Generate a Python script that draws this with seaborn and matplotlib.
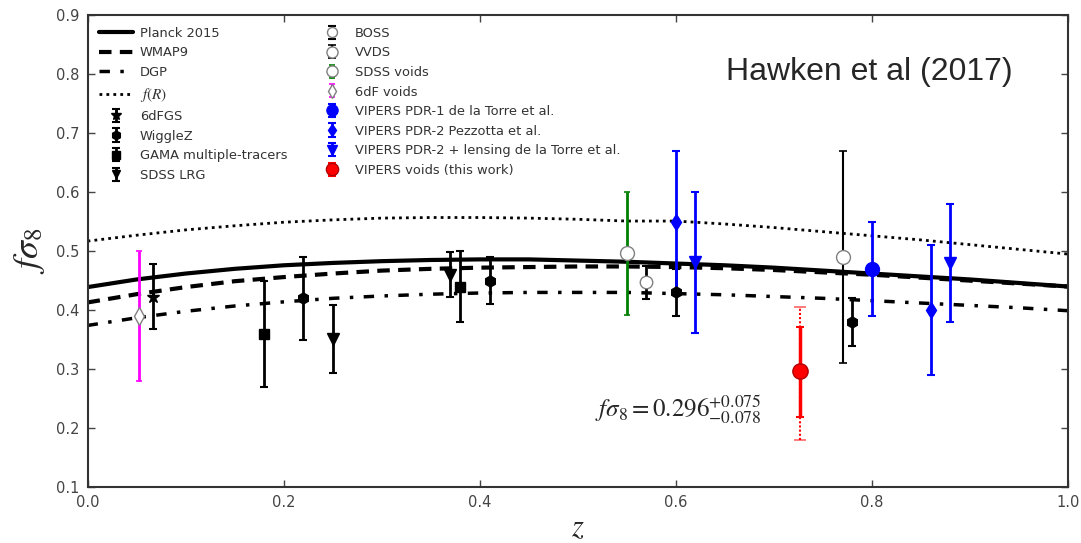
import numpy as np
import pandas as pd
import seaborn as sns
import matplotlib.pyplot as plt

sns.set_style("ticks")
plt.rcParams['font.family'] = ['DejaVu Sans']
plt.rcParams['mathtext.fontset'] = 'stix'

# theory curves
z_curve = [0.0, 0.05, 0.1, 0.15, 0.2, 0.25, 0.3, 0.35, 0.4, 0.45, 0.5,
           0.55, 0.6, 0.65, 0.7, 0.75, 0.8, 0.85, 0.9, 0.95, 1.0]
planck = [0.439, 0.452, 0.462, 0.470, 0.476, 0.480, 0.483, 0.485, 0.486, 0.486, 0.484,
          0.482, 0.479, 0.476, 0.472, 0.467, 0.462, 0.457, 0.452, 0.446, 0.440]
wmap9 = [0.413, 0.427, 0.439, 0.449, 0.456, 0.462, 0.467, 0.470, 0.472, 0.473, 0.474,
         0.474, 0.473, 0.471, 0.468, 0.464, 0.460, 0.455, 0.450, 0.445, 0.440]
dgp = [0.374, 0.387, 0.398, 0.407, 0.414, 0.420, 0.424, 0.427, 0.429, 0.430, 0.430,
       0.430, 0.428, 0.426, 0.423, 0.420, 0.416, 0.412, 0.408, 0.404, 0.399]
fR = [0.517, 0.527, 0.536, 0.543, 0.549, 0.553, 0.556, 0.557, 0.557, 0.556, 0.554,
      0.551, 0.551, 0.546, 0.540, 0.533, 0.526, 0.519, 0.511, 0.503, 0.495]

# measurements: z, fsigma8, error
sixdfgs_z, sixdfgs_f, sixdfgs_e = [0.067], [0.423], [0.055]
wigglez_z = [0.22, 0.41, 0.60, 0.78]
wigglez_f = [0.42, 0.45, 0.43, 0.38]
wigglez_e = [0.07, 0.04, 0.04, 0.04]
gama_z, gama_f, gama_e = [0.18, 0.38], [0.36, 0.44], [0.09, 0.06]
lrg_z, lrg_f, lrg_e = [0.25, 0.37], [0.351, 0.460], [0.058, 0.038]
boss_z, boss_f, boss_e = [0.57], [0.447], [0.028]
vvds_z, vvds_f, vvds_e = [0.77], [0.49], [0.18]
sdssv_z, sdssv_f, sdssv_e = [0.55], [0.496], [0.105]
sixdfv_z, sixdfv_f, sixdfv_e = [0.052], [0.39], [0.11]
pdr1_z, pdr1_f, pdr1_e = [0.80], [0.47], [0.08]
pezz_z, pezz_f, pezz_e = [0.60, 0.86], [0.55, 0.40], [0.12, 0.11]
lens_z, lens_f, lens_e = [0.62, 0.88], [0.481, 0.48], [0.12, 0.10]
voids_z, voids_f = [0.727], [0.296]
voids_up, voids_lo = [0.075], [0.078]
voids_up_sys, voids_lo_sys = [0.109], [0.117]

fig, ax = plt.subplots(figsize=(10.81, 5.43), dpi=100)
fig.subplots_adjust(left=0.081, right=0.988, top=0.972, bottom=0.103)

curves = pd.DataFrame({'z': z_curve, 'Planck 2015': planck, 'WMAP9': wmap9,
                       'DGP': dgp, 'fR': fR})
sns.lineplot(data=curves, x='z', y='Planck 2015', ax=ax, color='black', lw=3,
             label='Planck 2015')
sns.lineplot(data=curves, x='z', y='WMAP9', ax=ax, color='black', lw=3,
             linestyle=(0, (3, 2)), label='WMAP9')
sns.lineplot(data=curves, x='z', y='DGP', ax=ax, color='black', lw=2.5,
             linestyle=(0, (3, 3, 1, 3)), label='DGP')
sns.lineplot(data=curves, x='z', y='fR', ax=ax, color='black', lw=2,
             linestyle=(0, (1, 1.5)), label=r'$f(R)$')

ebk = dict(capsize=3, elinewidth=2, capthick=1.5, linestyle='none')
ax.errorbar(sixdfgs_z, sixdfgs_f, yerr=sixdfgs_e, fmt='*', color='black', ms=9,
            label='6dFGS', **ebk)
ax.errorbar(wigglez_z, wigglez_f, yerr=wigglez_e, fmt='h', color='black', ms=8,
            label='WiggleZ', **ebk)
ax.errorbar(gama_z, gama_f, yerr=gama_e, fmt='s', color='black', ms=7,
            label='GAMA multiple-tracers', **ebk)
ax.errorbar(lrg_z, lrg_f, yerr=lrg_e, fmt='v', color='black', ms=8,
            label='SDSS LRG', **ebk)
ax.errorbar(boss_z, boss_f, yerr=boss_e, fmt='o', color='black', ms=9, mfc='white',
            mec='gray', label='BOSS', **ebk)
ax.errorbar(vvds_z, vvds_f, yerr=vvds_e, fmt='o', color='black', ms=10, mfc='white',
            mec='gray', label='VVDS', capsize=3, elinewidth=1.5, capthick=1.2,
            linestyle='none')
ax.errorbar(sdssv_z, sdssv_f, yerr=sdssv_e, fmt='o', color='green', ms=10,
            mfc='white', mec='gray', label='SDSS voids', capsize=2, elinewidth=2,
            capthick=1.2, linestyle='none')
ax.errorbar(sixdfv_z, sixdfv_f, yerr=sixdfv_e, fmt='d', color='magenta', ms=9,
            mfc='white', mec='gray', label='6dF voids', capsize=2, elinewidth=2,
            capthick=1.2, linestyle='none')
ax.errorbar(pdr1_z, pdr1_f, yerr=pdr1_e, fmt='o', color='blue', ms=10,
            label='VIPERS PDR-1 de la Torre et al.', **ebk)
ax.errorbar(pezz_z, pezz_f, yerr=pezz_e, fmt='d', color='blue', ms=8,
            label='VIPERS PDR-2 Pezzotta et al.', **ebk)
ax.errorbar(lens_z, lens_f, yerr=lens_e, fmt='v', color='blue', ms=9,
            label='VIPERS PDR-2 + lensing de la Torre et al.', **ebk)
sys_bar = ax.errorbar(voids_z, voids_f, yerr=[voids_lo_sys, voids_up_sys], fmt='none',
                      ecolor='red', elinewidth=1.5, capsize=4, capthick=1.2)
for c in sys_bar[2]:
    c.set_linestyle((0, (1, 1)))
for c in sys_bar[1]:
    c.set_alpha(0.6)
ax.errorbar(voids_z, voids_f, yerr=[voids_lo, voids_up], fmt='o', color='red',
            ms=11, mec='#b00000', label='VIPERS voids (this work)', capsize=3,
            elinewidth=2.5, capthick=1.5, linestyle='none')

ax.set_xlim(0, 1.0)
ax.set_ylim(0.1, 0.9)
ax.set_xticks(np.arange(0, 1.01, 0.2))
ax.set_yticks(np.arange(0.1, 0.91, 0.1))
ax.tick_params(direction='in', top=True, right=True, length=5, width=1,
               labelsize=10.5, labelcolor='#444444', color='#444444', pad=6)
for sp in ax.spines.values():
    sp.set_color('#333333')
    sp.set_linewidth(1.5)

ax.set_xlabel(r'$z$', fontsize=22, labelpad=2)
ax.set_ylabel(r'$f\sigma_8$', fontsize=26, labelpad=6)

ax.text(0.651, 0.879, 'Hawken et al (2017)', transform=ax.transAxes,
        fontsize=23, family='Liberation Sans', va='center')
ax.text(0.518, 0.163, r'$f\sigma_8 = 0.296^{+0.075}_{-0.078}$',
        transform=ax.transAxes, fontsize=18, va='center')

leg = ax.legend(loc='upper left', ncol=2, frameon=False, fontsize=9.4, handlelength=2.6,
                handletextpad=0.5, labelspacing=0.5, columnspacing=2.1,
                numpoints=1, markerscale=0.8, labelcolor='#333333')
leg.get_texts()[3].set_fontsize(11)

plt.savefig('out.png', dpi=100)
